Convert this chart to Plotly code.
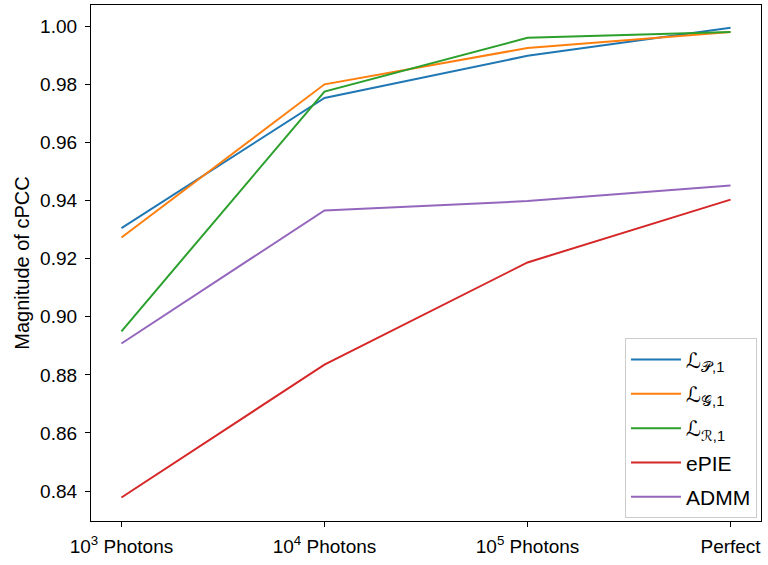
import plotly.graph_objects as go

categories = ["10<sup>3</sup> Photons", "10<sup>4</sup> Photons", "10<sup>5</sup> Photons", "Perfect"]
series_names = ["ℒ<sub>𝒫,1</sub>", "ℒ<sub>𝒢,1</sub>", "ℒ<sub>ℛ,1</sub>", "ePIE", "ADMM"]
vals_P = [0.9305, 0.9753, 0.9898, 0.9995]
vals_G = [0.9273, 0.9800, 0.9925, 0.9980]
vals_R = [0.8950, 0.9775, 0.9960, 0.9980]
vals_ePIE = [0.8378, 0.8835, 0.9187, 0.9403]
vals_ADMM = [0.8908, 0.9366, 0.9398, 0.9452]
y_ticks = [0.84, 0.86, 0.88, 0.90, 0.92, 0.94, 0.96, 0.98, 1.00]

colors = ["#1f77b4", "#ff7f0e", "#2ca02c", "#d62728", "#9467bd"]
all_vals = [vals_P, vals_G, vals_R, vals_ePIE, vals_ADMM]

fig = go.Figure()
xs = list(range(len(categories)))
for i, (name, v, c) in enumerate(zip(series_names, all_vals, colors)):
    fig.add_trace(go.Scatter(x=xs, y=v, mode="lines", name=name, legendgroup=f"g{i}",
                             line=dict(color=c, width=2)))

font = dict(family="Liberation Sans, Arial, sans-serif", size=19, color="black")
fig.update_layout(
    width=768, height=565,
    margin=dict(l=91, r=7, t=5, b=44),
    plot_bgcolor="white", paper_bgcolor="white",
    font=font,
    showlegend=True,
    legend=dict(x=0.994, y=0.005, xanchor="right", yanchor="bottom",
                bordercolor="#cccccc", borderwidth=1, bgcolor="white",
                font=dict(family="Liberation Sans, DejaVu Sans, sans-serif", size=21),
                itemwidth=50, tracegroupgap=4),
)
fig.update_xaxes(range=[-0.15, 3.15], tickmode="array", tickvals=xs, ticktext=categories,
                 showline=True, linecolor="black", linewidth=1.2, mirror=True,
                 ticks="outside", ticklen=5, tickcolor="black", showgrid=False, zeroline=False,
                 ticklabelstandoff=3)
fig.update_yaxes(range=[0.8297, 1.0073], tickmode="array", tickvals=y_ticks,
                 ticktext=[f"{t:.2f}" for t in y_ticks],
                 title=dict(text="Magnitude of cPCC", standoff=5, font=dict(size=20)),
                 showline=True, linecolor="black", linewidth=1.2, mirror=True,
                 ticks="outside", ticklen=5, tickcolor="black", showgrid=False, zeroline=False,
                 ticklabelstandoff=4)

fig.write_html("out.html")
